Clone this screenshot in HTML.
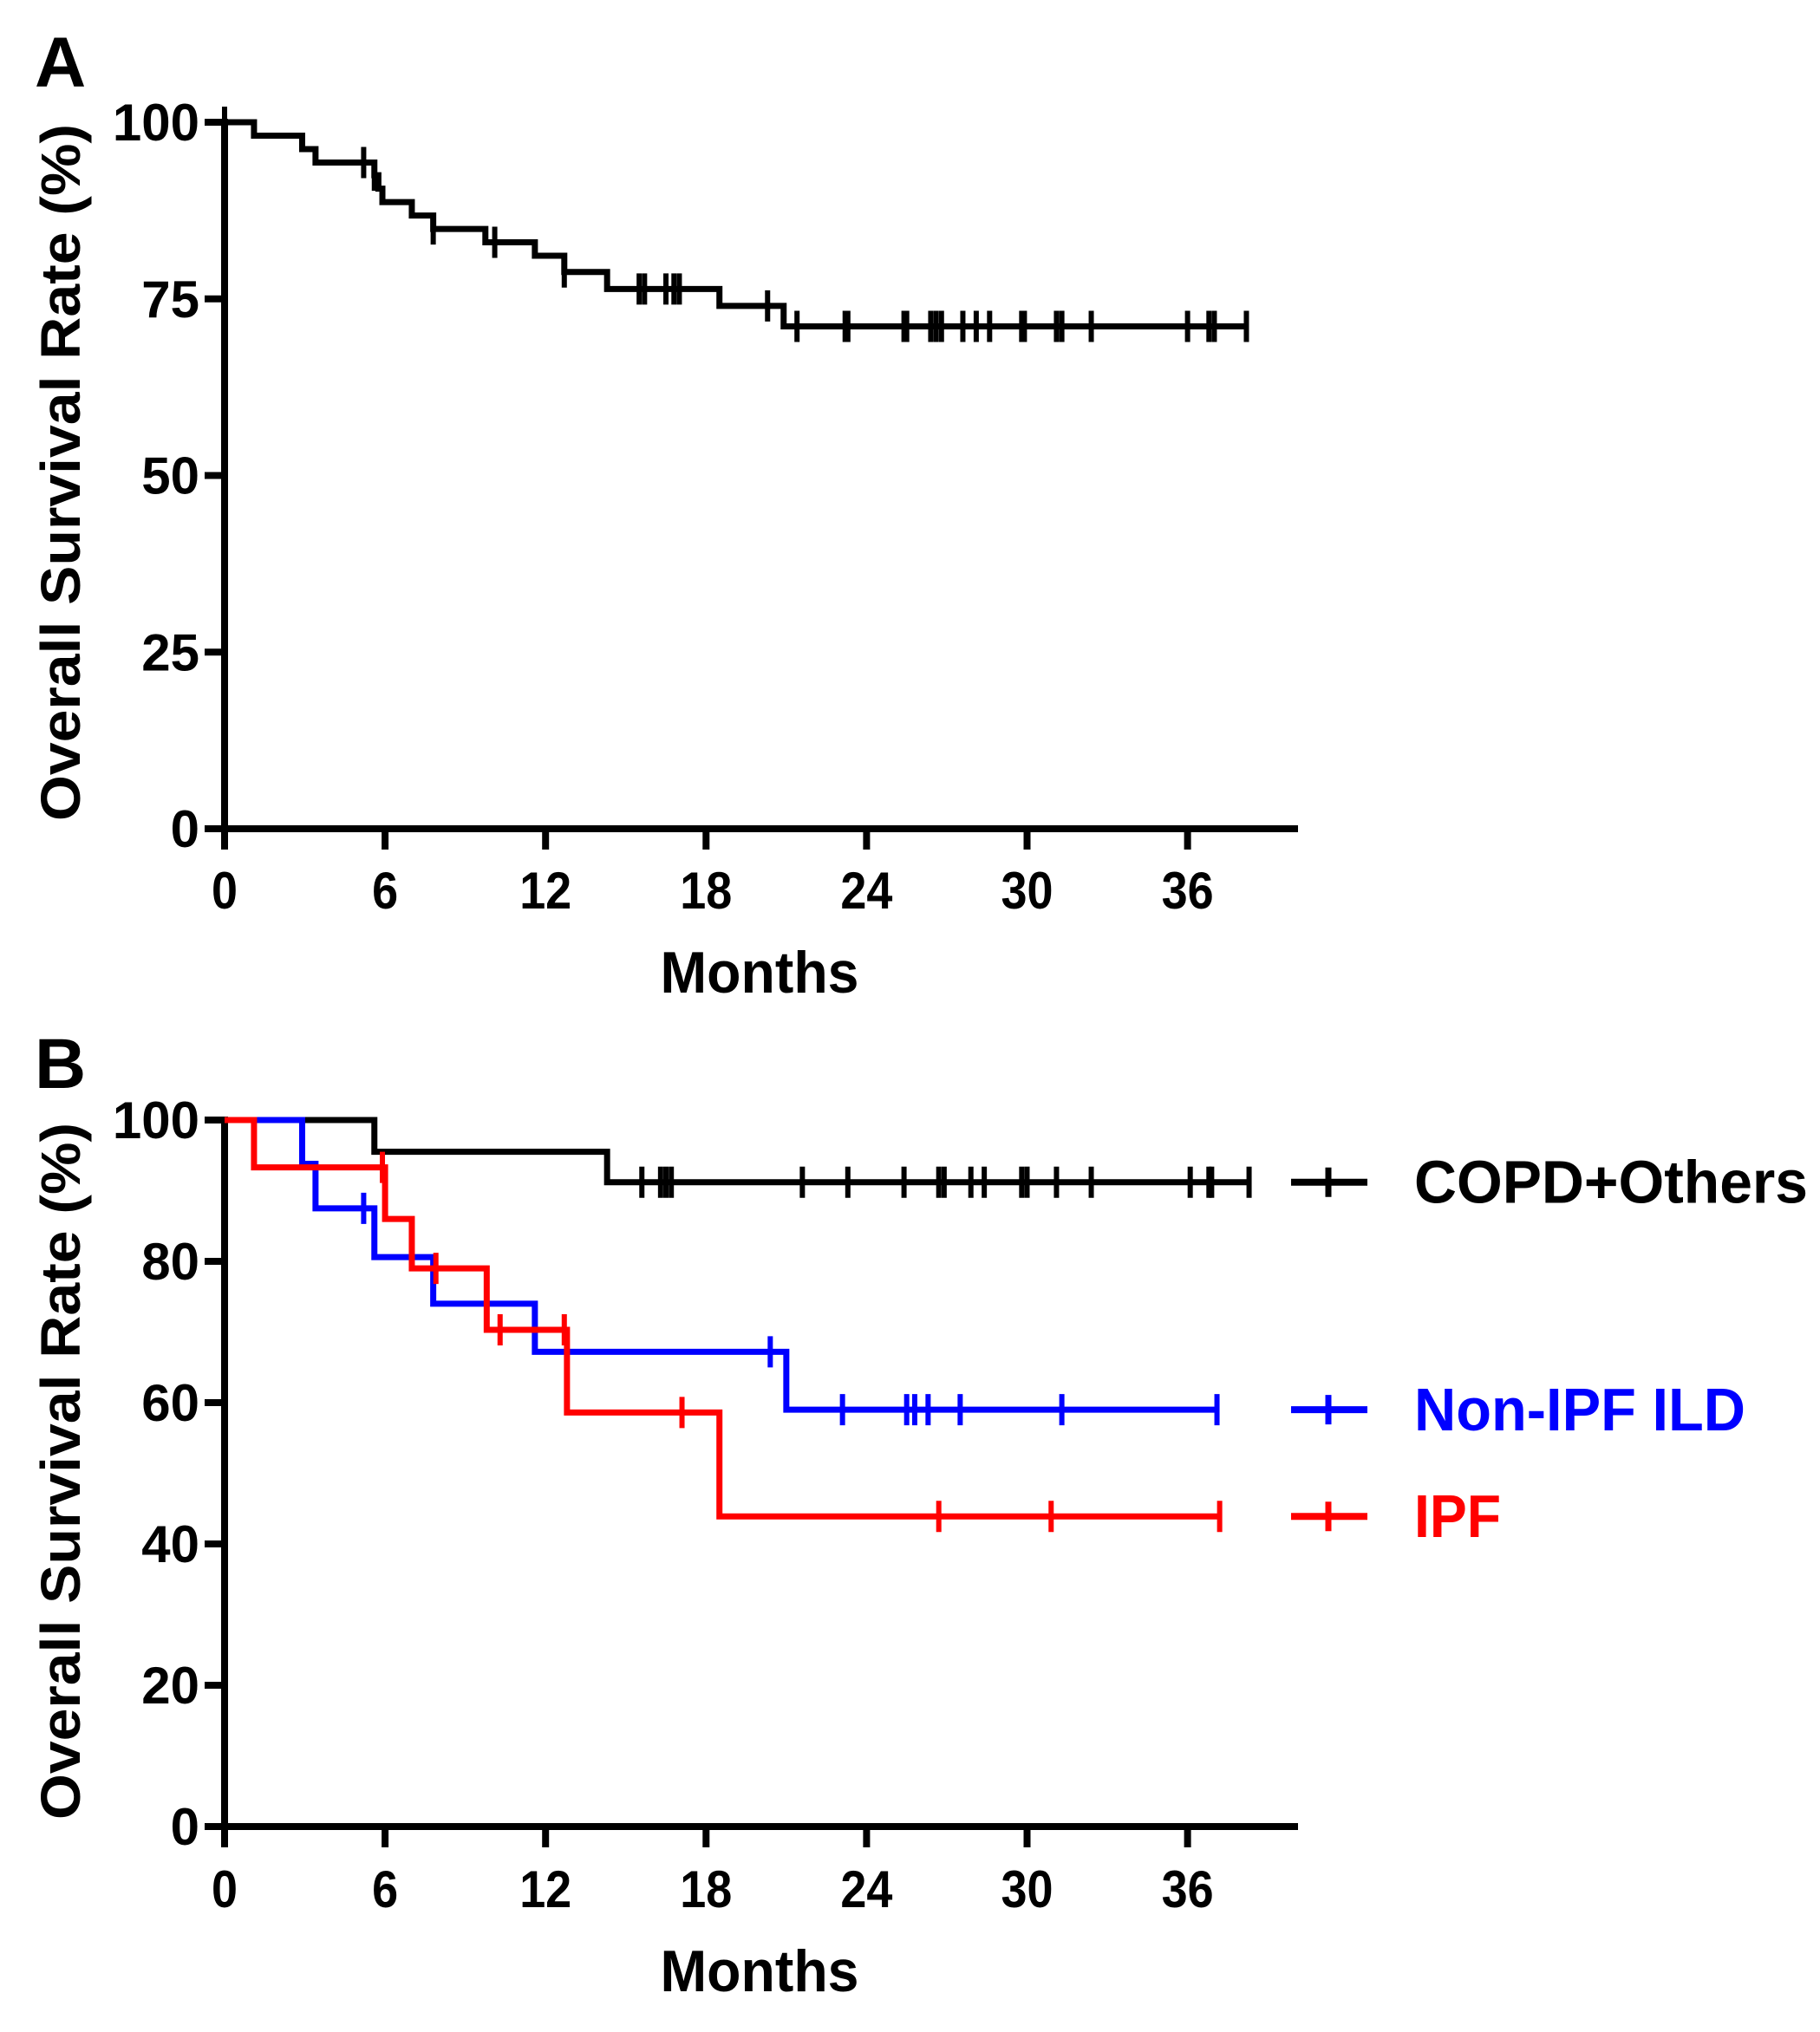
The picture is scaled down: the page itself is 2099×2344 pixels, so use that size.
<!DOCTYPE html>
<html><head><meta charset="utf-8"><style>
html,body{margin:0;padding:0;background:#fff;}
svg{display:block;}
text{font-family:"Liberation Sans",Arial,sans-serif;font-weight:bold;}
</style></head><body>
<svg id="fig" width="2099" height="2344" viewBox="0 0 2099 2344" xmlns="http://www.w3.org/2000/svg"></svg>
<script>
// Panel A data
const aTimes = [0, 1.1, 2.9, 3.4, 5.6, 5.75, 5.9, 7.0, 7.8, 9.75, 11.6, 12.7, 14.3, 18.5, 20.9];
const aSurv  = [100, 98.1, 96.2, 94.3, 92.5, 90.6, 88.7, 86.8, 84.9, 83.0, 81.1, 78.8, 76.4, 74.0, 71.1];
const aEnd = 38.2;
const aCensor = [0, 5.2, 5.6, 7.8, 10.1, 12.7, 15.5, 15.7, 16.5, 16.8, 17.0, 20.3, 21.4, 23.2, 23.3, 25.4, 25.5, 26.4, 26.6, 26.8, 27.6, 28.1, 28.6, 29.8, 29.9, 31.1, 31.3, 32.4, 36.0, 36.8, 37.0, 38.2];
const aYTicks = [0, 25, 50, 75, 100];
const xTicks = [0, 6, 12, 18, 24, 30, 36];
// Panel B data
const copdTimes = [0, 5.6, 14.3];
const copdSurv  = [100, 95.5, 91.2];
const copdEnd = 38.3;
const copdCensor = [15.6, 16.3, 16.5, 16.7, 21.6, 23.3, 25.4, 26.7, 26.9, 27.9, 28.4, 29.8, 30.0, 31.1, 32.4, 36.1, 36.8, 36.9, 38.3];
const ildTimes = [0, 2.9, 3.4, 5.6, 7.8, 11.6, 21.0];
const ildSurv  = [100, 93.8, 87.5, 80.6, 74.0, 67.2, 59.0];
const ildEnd = 37.1;
const ildCensor = [5.2, 20.4, 23.1, 25.5, 25.8, 26.3, 27.5, 31.3, 37.1];
const ipfTimes = [0, 1.1, 6.0, 7.0, 9.8, 12.8, 18.5];
const ipfSurv  = [100, 93.3, 86.0, 79.0, 70.3, 58.6, 43.9];
const ipfEnd = 37.2;
const ipfCensor = [5.9, 7.9, 10.3, 12.7, 17.1, 26.7, 30.9, 37.2];
const bYTicks = [0, 20, 40, 60, 80, 100];
const legendLabels = ["COPD+Others", "Non-IPF ILD", "IPF"];

const NS = "http://www.w3.org/2000/svg";
const svg = document.getElementById('fig');
function mk(tag, attrs, parent){ const e=document.createElementNS(NS,tag); for(const k in attrs) e.setAttribute(k,attrs[k]); (parent||svg).appendChild(e); return e; }

const X0 = 259, PXM = 30.85, XEND = 1497;
const xs = m => X0 + m*PXM;

function panel(id, y100, y0, ymax, yTicks, label, labelBase, monthsBase, xlabBase, titleCy){
  const g = mk('g', {});
  
  
  const ys = v => y0 - (v/ymax)*(y0-y100);
  const pl = mk('text', {x:40, y:labelBase, 'font-size':82}, g);
  pl.textContent = label;
  
  
  const ax = mk('path', {d:`M${X0} ${y100-4} V${y0} H${XEND}`, stroke:'#000', 'stroke-width':8, fill:'none'}, g);
  
  
  yTicks.forEach(t => {
    const y = ys(t);
    const tk = mk('line', {x1:236, x2:X0, y1:y, y2:y, stroke:'#000', 'stroke-width':8}, g);
    
    
    const tl = mk('text', {x:230, y:y+21, 'font-size':60, 'text-anchor':'end'}, g);
    tl.textContent = t;
    
    
  });
  xTicks.forEach(t => {
    const x = xs(t);
    const tk = mk('line', {x1:x, x2:x, y1:y0, y2:y0+24, stroke:'#000', 'stroke-width':8}, g);
    
    
    const tl = mk('text', {x:x, y:xlabBase, 'font-size':60, 'text-anchor':'middle', textLength: String(t).length*30, lengthAdjust:'spacingAndGlyphs'}, g);
    tl.textContent = t;
    
    
  });
  const mt = mk('text', {x:(X0+XEND)/2 - 2, y:monthsBase, 'font-size':68, 'text-anchor':'middle', textLength:229, lengthAdjust:'spacingAndGlyphs'}, g);
  mt.textContent = 'Months';
  
  
  const yt = mk('text', {x:0, y:0, 'font-size':64, 'text-anchor':'middle', textLength:804, lengthAdjust:'spacingAndGlyphs', transform:`translate(92 ${titleCy}) rotate(-90)`}, g);
  yt.textContent = 'Overall Survival Rate (%)';
  
  
  return {g, ys};
}

function curve(p, times, surv, end, censor, color, name){
  let d = `M${xs(times[0])} ${p.ys(surv[0])}`;
  for(let i=1;i<times.length;i++){ d += ` H${xs(times[i])} V${p.ys(surv[i])}`; }
  d += ` H${xs(end)}`;
  const path = mk('path', {d, stroke:color, 'stroke-width':7, fill:'none'}, p.g);
  
  
  const survAt = t => { let s=surv[0]; for(let i=0;i<times.length;i++){ if(times[i]<=t) s=surv[i]; } return s; };
  censor.forEach(c => {
    const x = xs(c), y = p.ys(survAt(c));
    const m = mk('line', {x1:x, x2:x, y1:y-18, y2:y+18, stroke:color, 'stroke-width':6}, p.g);
    
    
  });
}

const pA = panel('a', 141, 956, 100, aYTicks, 'A', 100, 1145, 1048, 545);
curve(pA, aTimes, aSurv, aEnd, aCensor, '#000', 'overall');

const pB = panel('b', 1292, 2107, 100, bYTicks, 'B', 1255, 2297, 2200, 1697);
curve(pB, copdTimes, copdSurv, copdEnd, copdCensor, '#000', 'copd-others');
curve(pB, ildTimes, ildSurv, ildEnd, ildCensor, '#0000ff', 'non-ipf-ild');
curve(pB, ipfTimes, ipfSurv, ipfEnd, ipfCensor, '#ff0000', 'ipf');

const legColors = ['#000', '#0000ff', '#ff0000'];
const legVals = [copdSurv[copdSurv.length-1], ildSurv[ildSurv.length-1], ipfSurv[ipfSurv.length-1]];
const legWidths = [454, 382, 100];
legendLabels.forEach((lab, i) => {
  const y = pB.ys(legVals[i]);
  const lg = mk('g', {});
  
  
  mk('line', {x1:1489, x2:1577, y1:y, y2:y, stroke:legColors[i], 'stroke-width':8}, lg);
  mk('line', {x1:1532, x2:1532, y1:y-17, y2:y+17, stroke:legColors[i], 'stroke-width':7}, lg);
  const t = mk('text', {x:1631, y:y+24, 'font-size':70, fill:legColors[i], textLength:legWidths[i], lengthAdjust:'spacingAndGlyphs'}, lg);
  t.textContent = lab;
});
</script>
</body></html>
